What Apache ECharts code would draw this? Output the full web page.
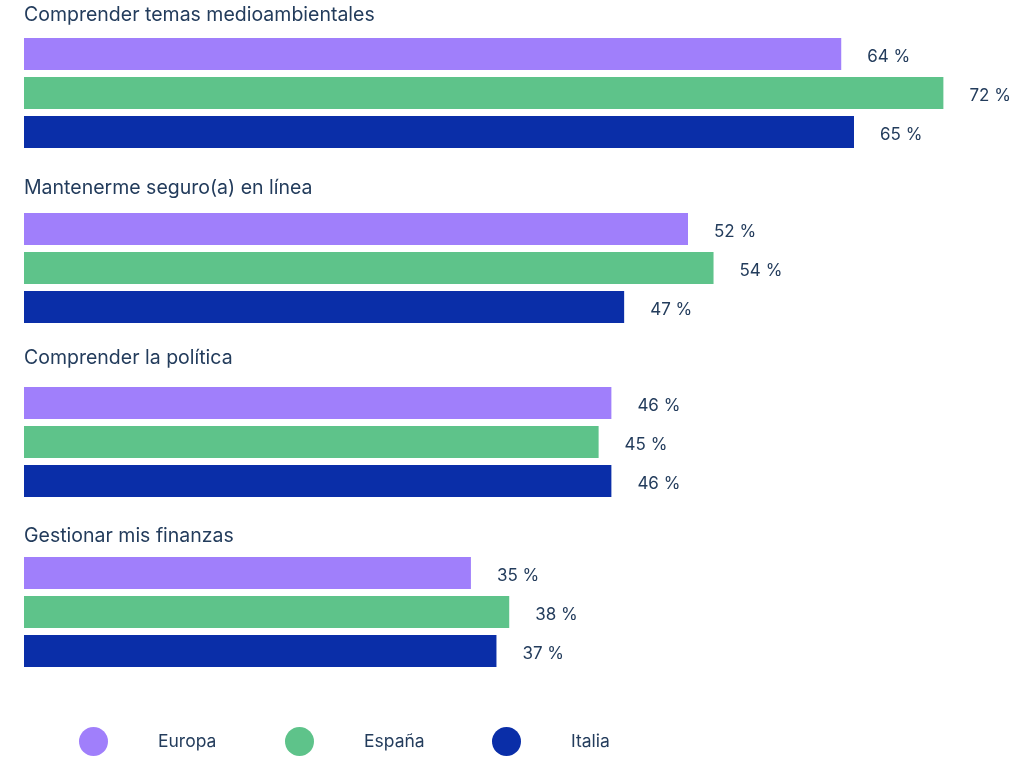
<!DOCTYPE html>
<html>
<head>
<meta charset="utf-8">
<script src="https://cdn.jsdelivr.net/npm/echarts@6/dist/echarts.min.js"></script>
<style>
html, body { margin: 0; padding: 0; background: #fff; }
#chart { width: 1024px; height: 764px; }
</style>
</head>
<body>
<div id="chart"></div>
<script>
var categories = ['Comprender temas medioambientales', 'Mantenerme seguro(a) en línea', 'Comprender la política', 'Gestionar mis finanzas'];
var countries = ['Europa', 'España', 'Italia'];
var europa = [64, 52, 46, 35];
var espana = [72, 54, 45, 38];
var italia = [65, 47, 46, 37];

var colors = ['#a07ffb', '#5ec38a', '#0a2ea8'];
var textColor = '#233c5c';
var fontName = 'Inter';

// layout of the four blocks
var gridTops = [38, 213, 387, 557];
var titleTops = [15, 188, 358, 536];
var legendLefts = [79, 285, 492];

var values = [europa, espana, italia];

var dom = document.getElementById('chart');
var myChart = echarts.init(dom);
var option = {
    animation: false,
    title: [],
    grid: [],
    xAxis: [],
    yAxis: [],
    legend: [],
    series: []
};

for (var i = 0; i < categories.length; i++) {
    option.title.push({
        text: categories[i],
        left: 24,
        top: titleTops[i] - 11,
        padding: 0,
        textStyle: {
            color: textColor,
            fontFamily: fontName,
            fontSize: 19.5,
            fontWeight: 'normal',
            lineHeight: 22
        }
    });
    option.grid.push({
        left: 24,
        width: 996,
        top: gridTops[i],
        height: 110
    });
    option.xAxis.push({
        gridIndex: i,
        type: 'value',
        min: 0,
        max: 78,
        show: false
    });
    option.yAxis.push({
        gridIndex: i,
        type: 'category',
        data: [categories[i]],
        show: false
    });
    for (var j = 0; j < countries.length; j++) {
        option.series.push({
            name: countries[j],
            type: 'bar',
            xAxisIndex: i,
            yAxisIndex: i,
            barWidth: 32,
            barGap: '22%',
            itemStyle: { color: colors[j] },
            label: {
                show: true,
                position: 'right',
                distance: 26,
                offset: [0, 3],
                formatter: '{c} %',
                color: textColor,
                fontFamily: fontName,
                fontSize: 17
            },
            data: [values[j][i]]
        });
    }
}

for (var k = 0; k < countries.length; k++) {
    option.legend.push({
        data: [countries[k]],
        left: legendLefts[k],
        top: 727,
        padding: 0,
        icon: 'circle',
        itemWidth: 29,
        itemHeight: 29,
        selectedMode: false,
        textStyle: {
            color: textColor,
            fontFamily: fontName,
            fontSize: 17.5,
            padding: [0, 0, 0, 45]
        }
    });
}

if (option && typeof option === "object") {
    myChart.setOption(option, true);
}
</script>
</body>
</html>
